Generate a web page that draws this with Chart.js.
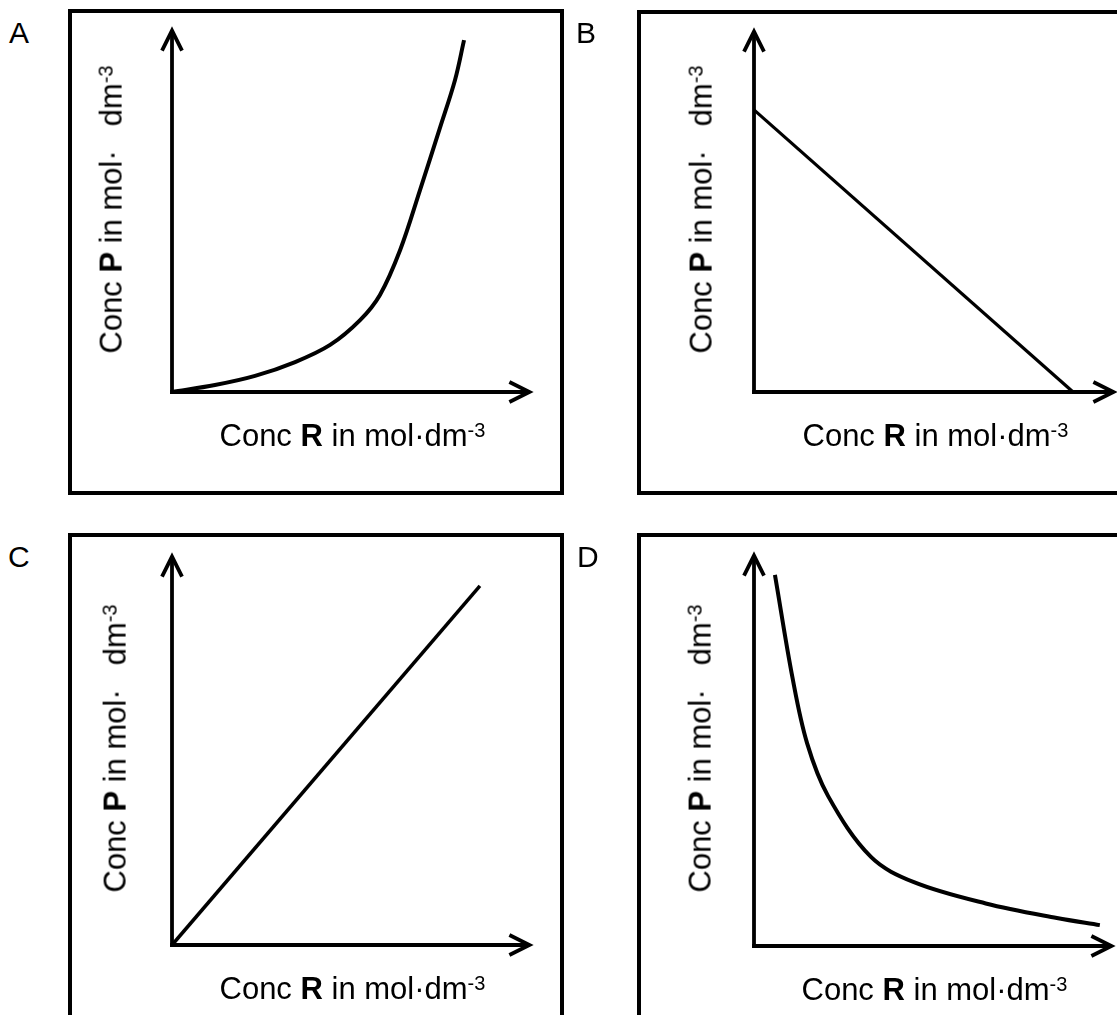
<!DOCTYPE html>
<html>
<head>
<meta charset="utf-8">
<script src="https://cdn.jsdelivr.net/npm/chart.js@4.4.1/dist/chart.umd.min.js"></script>
<style>
  html, body { margin:0; padding:0; background:#fff; }
  body { width:1117px; height:1015px; overflow:hidden; position:relative;
         font-family:"Liberation Sans", Arial, Helvetica, sans-serif; color:#000; }
  .frame { position:absolute; border:4px solid #000; box-sizing:border-box; }
  .letter { position:absolute; font-size:30px; line-height:30px; white-space:nowrap; }
  canvas.cv { position:absolute; }
  .lab { position:absolute; font-size:31px; line-height:30px; white-space:nowrap; }
  .lab b { font-weight:bold; }
  .lab .sup { font-size:20px; position:relative; top:-9px; }
  .lab .gap { display:inline-block; width:24px; }
</style>
</head>
<body>
<script>
// ---------- data (axis units 0–10) ----------
const axisMax = 10;

// Panel A: P rises slowly then steeply
const R_A = [0, 1.19, 2.30, 3.41, 4.38, 5.21, 5.76, 6.32, 6.87, 7.42, 7.84, 8.09];
const P_A = [0, 0.19, 0.44, 0.82, 1.29, 1.97, 2.66, 3.89, 5.53, 7.23, 8.55, 9.64];

// Panel B: straight line falling to the R axis
const R_B = [0, 8.79];
const P_B = [7.75, 0];

// Panel C: straight line through the origin
const R_C = [0, 8.53];
const P_C = [0, 9.16];

// Panel D: decaying curve
const R_D = [0.58, 1.07, 1.47, 2.05, 3.24, 4.43, 6.42, 8.39, 9.58];
const P_D = [9.42, 6.79, 5.15, 3.81, 2.26, 1.62, 1.08, 0.71, 0.53];

const panelLetters = ["A", "B", "C", "D"];
const xTitleHTML = 'Conc <b>R</b> in mol·dm<span class="sup">-3</span>';
const yTitleHTML = 'Conc <b>P</b> in mol·<span class="gap"></span>dm<span class="sup">-3</span>';

// ---------- layout ----------
const layouts = [
  { letter:[9,17.6],   frame:{l:68, t:9,   w:496, h:486},
    canvas:{l:0,   t:0,   w:600, h:510}, area:{l:172, t:27,  r:533,  b:392},
    yBase:48, lw:4,   tension:0.35 },
  { letter:[576,17.6], frame:{l:637,t:10,  w:600, h:485},
    canvas:{l:580, t:0,   w:600, h:510}, area:{l:754, t:28,  r:1117, b:392},
    yBase:40, lw:3.2, tension:0 },
  { letter:[8,542],    frame:{l:68, t:533, w:496, h:600},
    canvas:{l:0,   t:505, w:600, h:510}, area:{l:172, t:553, r:533,  b:945},
    yBase:44, lw:3.5, tension:0 },
  { letter:[577,542],  frame:{l:637,t:533, w:600, h:600},
    canvas:{l:580, t:505, w:600, h:510}, area:{l:754, t:552, r:1115, b:946},
    yBase:41, lw:4,   tension:0.35 }
];
const seriesR = [R_A, R_B, R_C, R_D];
const seriesP = [P_A, P_B, P_C, P_D];

// ---------- axes with arrowheads, drawn from the chart's scales ----------
const arrowAxes = {
  id: 'arrowAxes',
  afterDatasetsDraw(chart) {
    const ctx = chart.ctx, xs = chart.scales.x, ys = chart.scales.y;
    const x0 = xs.getPixelForValue(0), x1 = xs.getPixelForValue(xs.max);
    const y0 = ys.getPixelForValue(0), y1 = ys.getPixelForValue(ys.max);
    const lw = 3.8, L = 20, H = 10, off = 3.6;
    ctx.save();
    ctx.strokeStyle = '#000';
    ctx.lineWidth = lw;
    ctx.lineCap = 'butt';
    ctx.lineJoin = 'miter';
    ctx.beginPath();
    ctx.moveTo(x0, y0 + lw / 2);
    ctx.lineTo(x0, y1 + off);
    ctx.stroke();
    ctx.beginPath();
    ctx.moveTo(x0 - H, y1 + off + L);
    ctx.lineTo(x0, y1 + off);
    ctx.lineTo(x0 + H, y1 + off + L);
    ctx.stroke();
    ctx.beginPath();
    ctx.moveTo(x0 - lw / 2, y0);
    ctx.lineTo(x1 - off, y0);
    ctx.stroke();
    ctx.beginPath();
    ctx.moveTo(x1 - off - L, y0 - H);
    ctx.lineTo(x1 - off, y0);
    ctx.lineTo(x1 - off - L, y0 + H);
    ctx.stroke();
    ctx.restore();
  }
};

function el(tag, cls, html) {
  const e = document.createElement(tag);
  if (cls) e.className = cls;
  if (html !== undefined) e.innerHTML = html;
  document.body.appendChild(e);
  return e;
}

layouts.forEach((L, i) => {
  const f = el('div', 'frame');
  Object.assign(f.style, { left: L.frame.l + 'px', top: L.frame.t + 'px',
                           width: L.frame.w + 'px', height: L.frame.h + 'px' });
  const lt = el('div', 'letter', panelLetters[i]);
  lt.style.left = L.letter[0] + 'px';
  lt.style.top = L.letter[1] + 'px';

  const cv = el('canvas', 'cv');
  cv.width = L.canvas.w; cv.height = L.canvas.h;
  Object.assign(cv.style, { left: L.canvas.l + 'px', top: L.canvas.t + 'px',
                            width: L.canvas.w + 'px', height: L.canvas.h + 'px' });
  const pad = {
    left: L.area.l - L.canvas.l,
    top: L.area.t - L.canvas.t,
    right: L.canvas.l + L.canvas.w - L.area.r,
    bottom: L.canvas.t + L.canvas.h - L.area.b
  };
  const R = seriesR[i], P = seriesP[i];
  const chart = new Chart(cv, {
    type: 'line',
    data: {
      datasets: [{
        data: R.map((r, k) => ({ x: r, y: P[k] })),
        borderColor: '#000',
        borderWidth: L.lw,
        pointRadius: 0,
        fill: false,
        tension: L.tension,
        clip: false
      }]
    },
    options: {
      responsive: false,
      animation: false,
      devicePixelRatio: 1,
      events: [],
      layout: { padding: pad },
      plugins: { legend: { display: false }, tooltip: { enabled: false } },
      scales: {
        x: { type: 'linear', min: 0, max: axisMax, display: false },
        y: { type: 'linear', min: 0, max: axisMax, display: false }
      }
    },
    plugins: [arrowAxes]
  });

  const ca = chart.chartArea;
  const xl = el('div', 'lab', xTitleHTML);
  const xw = xl.offsetWidth;
  xl.style.left = (L.canvas.l + (ca.left + ca.right) / 2 - xw / 2) + 'px';
  xl.style.top = (L.canvas.t + ca.bottom + 55 - 26) + 'px';

  const yl = el('div', 'lab', yTitleHTML);
  const yw = yl.offsetWidth;
  const cx = L.canvas.l + ca.left - L.yBase - 11;
  const cy = L.canvas.t + (ca.top + ca.bottom) / 2 - 2;
  yl.style.left = (cx - yw / 2) + 'px';
  yl.style.top = (cy - 15) + 'px';
  yl.style.transformOrigin = '50% 50%';
  yl.style.transform = 'rotate(-90deg)';
});
</script>
</body>
</html>
